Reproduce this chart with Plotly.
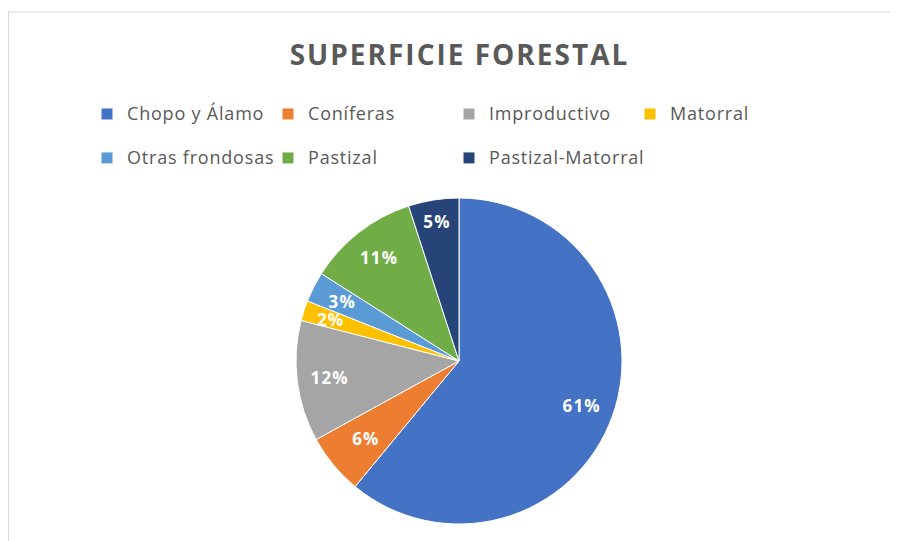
import plotly.graph_objects as go

categories = ["Chopo y Álamo", "Coníferas", "Improductivo", "Matorral",
              "Otras frondosas", "Pastizal", "Pastizal-Matorral"]
values = [61, 6, 12, 2, 3, 11, 5]
colors = ["#4472C4", "#ED7D31", "#A5A5A5", "#FFC000", "#5B9BD5", "#70AD47", "#264478"]
title_text = "SUPERFICIE FORESTAL"

# the page body has an 8px margin; figure coordinates are relative to it
W, H = 891, 533
cx, cy, R = 451, 353, 163


def dom(r):
    return dict(x=[(cx - r) / W, (cx + r) / W], y=[1 - (cy + r) / H, 1 - (cy - r) / H])


legend_labels = [f"<span style='font-size:18px;letter-spacing:0.8px;baseline-shift:6px'>{c}</span>"
                 for c in categories]

# slices
pie = go.Pie(
    labels=legend_labels,
    values=values,
    sort=False,
    direction="clockwise",
    rotation=0,
    marker=dict(colors=colors, line=dict(color="white", width=1)),
    textinfo="none",
    domain=dom(R),
    hovertemplate="%{customdata}: %{percent:.0%}<extra></extra>",
    customdata=categories,
)

# percentage labels, placed in an outer ring like the original;
# narrow slices get their label from a slightly smaller ring
narrow = [v <= 6 and v != 5 for v in values]


def label_ring(radius, show):
    return go.Pie(
        labels=categories,
        values=values,
        sort=False,
        direction="clockwise",
        rotation=0,
        hole=0.6,
        marker=dict(colors=["rgba(0,0,0,0)"] * len(values), line=dict(width=0)),
        texttemplate="<span style='letter-spacing:1.2px'>%{percent:.0%}</span>",
        textposition=["inside" if s else "none" for s in show],
        insidetextorientation="horizontal",
        textfont=dict(family="Open Sans", size=17, color="white", weight="bold"),
        domain=dom(radius),
        showlegend=False,
        hoverinfo="skip",
    )


ring_outer = label_ring(R, [not n for n in narrow])
ring_inner = label_ring(R * 0.88, narrow)

fig = go.Figure([pie, ring_outer, ring_inner])

fig.update_layout(
    width=W, height=H,
    margin=dict(l=0, r=0, t=0, b=0),
    paper_bgcolor="white",
    font=dict(family="Open Sans", color="#595959"),
    title=dict(text=f"<span style='letter-spacing:2px'><b>{title_text}</b></span>",
               x=451.5 / W, xanchor="center", y=1 - 47 / H, yanchor="middle",
               font=dict(size=28, color="#595959")),
    uniformtext=dict(minsize=17, mode="show"),
    legend=dict(orientation="h", x=79 / W, xanchor="left", y=1 - 79 / H, yanchor="top",
                font=dict(size=31.5, color="#595959"), entrywidth=136, entrywidthmode="pixels",
                itemclick=False),
    shapes=[
        dict(type="line", xref="paper", yref="paper", x0=0, x1=1, y0=1 - 4 / H, y1=1 - 4 / H,
             line=dict(color="#D9D9D9", width=1)),
        dict(type="line", xref="paper", yref="paper", x0=0.5 / W, x1=0.5 / W, y0=0, y1=1 - 4 / H,
             line=dict(color="#D9D9D9", width=1)),
    ],
)

fig.write_html("out.html")
